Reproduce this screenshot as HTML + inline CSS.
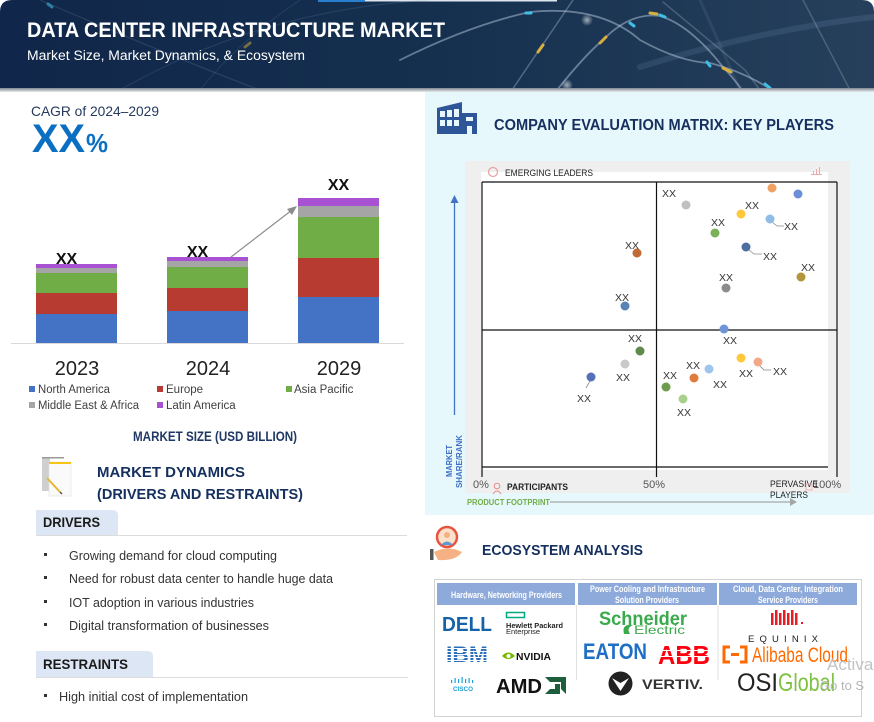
<!DOCTYPE html>
<html><head><meta charset="utf-8"><style>
html,body{margin:0;padding:0;background:#fff;width:874px;height:722px;overflow:hidden}
svg{display:block;font-family:"Liberation Sans",Arial,sans-serif}
</style></head><body>
<svg width="874" height="722" viewBox="0 0 874 722" xmlns="http://www.w3.org/2000/svg">
<defs>
<linearGradient id="hg" x1="0" y1="0" x2="1" y2="0">
<stop offset="0" stop-color="#10264a"/><stop offset="0.5" stop-color="#15304f"/><stop offset="1" stop-color="#26405c"/>
</linearGradient>
<linearGradient id="hb" x1="0" y1="0" x2="0" y2="1">
<stop offset="0" stop-color="#7e8792"/><stop offset="1" stop-color="#e8eaec"/>
</linearGradient>
<radialGradient id="glw"><stop offset="0" stop-color="rgba(255,255,255,0.6)"/><stop offset="1" stop-color="rgba(255,255,255,0)"/></radialGradient>
</defs>
<rect width="874" height="722" fill="#fff"/>
<!-- header -->
<path d="M0,90 L0,12 Q0,0 12,0 L862,0 Q874,0 874,12 L874,90 Z" fill="url(#hg)"/>
<rect x="318" y="0" width="47" height="2" fill="#2a7fd0"/>
<rect x="365" y="0" width="192" height="1.5" fill="#dde6ee"/>
<g fill="none" stroke-linecap="round">
<path d="M40,0 Q180,60 260,90" stroke="rgba(140,170,210,0.18)" stroke-width="1.2"/>
<path d="M120,90 Q260,10 430,0" stroke="rgba(140,170,210,0.15)" stroke-width="1.2"/>
<path d="M200,90 Q240,40 300,0" stroke="rgba(140,170,210,0.12)" stroke-width="1.2"/>
<path d="M640,67 Q760,30 873,17" stroke="rgba(120,150,190,0.18)" stroke-width="6"/>
<path d="M573,0 L512,90" stroke="rgba(190,205,225,0.35)" stroke-width="1.5"/>
<path d="M663,2 L745,70 L760,90" stroke="rgba(190,205,225,0.25)" stroke-width="1.5"/>
<path d="M803,0 L850,90" stroke="rgba(190,205,225,0.25)" stroke-width="1.5"/>
<path d="M700,0 L740,90" stroke="rgba(150,170,200,0.12)" stroke-width="3"/>
<path d="M400,60 Q470,25 530,12 Q600,5 640,40 Q680,62 710,63 Q745,72 775,92" stroke="rgba(200,215,235,0.45)" stroke-width="1.8"/>
<path d="M557,90 Q585,55 603,40 Q630,12 660,16 Q690,25 723,67 Q735,80 742,90" stroke="rgba(200,215,235,0.45)" stroke-width="1.8"/>
</g>
<g stroke-width="3" stroke-linecap="round">
<line x1="538" y1="52" x2="543" y2="45" stroke="#d8b040"/>
<line x1="600" y1="43" x2="606" y2="37" stroke="#d8b040"/>
<line x1="650" y1="13" x2="657" y2="14" stroke="#d8b040"/>
<line x1="723" y1="68" x2="731" y2="72" stroke="#d8b040"/>
<line x1="245" y1="47" x2="250" y2="43" stroke="rgba(216,176,64,0.5)"/>
<line x1="526" y1="13" x2="531" y2="13" stroke="#3cc0e8"/>
<line x1="630" y1="23" x2="634" y2="26" stroke="#3cc0e8"/>
<line x1="660" y1="15" x2="665" y2="17" stroke="#3cc0e8"/>
<line x1="707" y1="62" x2="710" y2="66" stroke="#3cc0e8"/>
<line x1="765" y1="84" x2="770" y2="88" stroke="#3cc0e8"/>
<line x1="48" y1="4" x2="52" y2="7" stroke="rgba(60,182,216,0.6)"/>
</g>
<circle cx="587" cy="20" r="6" fill="url(#glw)"/>
<circle cx="567" cy="85" r="6" fill="url(#glw)"/>
<text x="27" y="37" font-size="21" font-weight="bold" fill="#fff" textLength="418" lengthAdjust="spacingAndGlyphs">DATA CENTER INFRASTRUCTURE MARKET</text>
<text x="27" y="60" font-size="13.5" fill="#fff" textLength="278" lengthAdjust="spacingAndGlyphs">Market Size, Market Dynamics, &amp; Ecosystem</text>
<rect x="0" y="88" width="874" height="4" fill="url(#hb)"/>

<!-- right cyan panel -->
<rect x="425" y="92" width="449" height="423" fill="#e6f8fc"/>

<!-- CAGR -->
<text x="31" y="116" font-size="14" fill="#253a5e" textLength="128" lengthAdjust="spacingAndGlyphs">CAGR of 2024–2029</text>
<text x="32" y="152" font-size="40" font-weight="bold" fill="#0a6fc2" textLength="53" lengthAdjust="spacingAndGlyphs">XX</text>
<text x="86" y="152" font-size="26" font-weight="bold" fill="#0a6fc2" textLength="22" lengthAdjust="spacingAndGlyphs">%</text>

<!-- bars -->
<g>
<rect x="36" y="264" width="81" height="4" fill="#a851d3"/>
<rect x="36" y="268" width="81" height="5" fill="#a5a5a5"/>
<rect x="36" y="273" width="81" height="20" fill="#70ad47"/>
<rect x="36" y="293" width="81" height="21" fill="#b83b31"/>
<rect x="36" y="314" width="81" height="29" fill="#4472c4"/>
<rect x="167" y="257" width="81" height="4" fill="#a851d3"/>
<rect x="167" y="261" width="81" height="6" fill="#a5a5a5"/>
<rect x="167" y="267" width="81" height="21" fill="#70ad47"/>
<rect x="167" y="288" width="81" height="23" fill="#b83b31"/>
<rect x="167" y="311" width="81" height="32" fill="#4472c4"/>
<rect x="298" y="198" width="81" height="8" fill="#a851d3"/>
<rect x="298" y="206" width="81" height="11" fill="#a5a5a5"/>
<rect x="298" y="217" width="81" height="41" fill="#70ad47"/>
<rect x="298" y="258" width="81" height="39" fill="#b83b31"/>
<rect x="298" y="297" width="81" height="46" fill="#4472c4"/>
</g>
<line x1="11" y1="343.5" x2="404" y2="343.5" stroke="#d9d9d9" stroke-width="1"/>
<line x1="231" y1="257" x2="292" y2="210" stroke="#8c8c8c" stroke-width="1.2"/>
<polygon points="297,206 287,209 292,215" fill="#8c8c8c"/>
<g font-size="16" font-weight="bold" fill="#111" text-anchor="middle">
<text x="66.5" y="264">XX</text>
<text x="197.5" y="257">XX</text>
<text x="338.5" y="190">XX</text>
</g>
<g font-size="20" fill="#222" text-anchor="middle">
<text x="77" y="375">2023</text>
<text x="208" y="375">2024</text>
<text x="339" y="375">2029</text>
</g>
<g font-size="11.5" fill="#404040">
<rect x="29" y="386" width="6" height="6" fill="#4472c4"/><text x="38" y="393" textLength="72" lengthAdjust="spacingAndGlyphs">North America</text>
<rect x="157" y="386" width="6" height="6" fill="#b83b31"/><text x="166" y="393">Europe</text>
<rect x="286" y="386" width="6" height="6" fill="#70ad47"/><text x="294" y="393">Asia Pacific</text>
<rect x="29" y="402" width="6" height="6" fill="#a5a5a5"/><text x="38" y="409" textLength="101" lengthAdjust="spacingAndGlyphs">Middle East &amp; Africa</text>
<rect x="157" y="402" width="6" height="6" fill="#a851d3"/><text x="166" y="409">Latin America</text>
</g>
<text x="133" y="441" font-size="13.5" font-weight="bold" fill="#203864" textLength="164" lengthAdjust="spacingAndGlyphs">MARKET SIZE (USD BILLION)</text>

<!-- market dynamics icon -->
<rect x="42" y="457" width="8" height="34" fill="#cfcfcf"/>
<rect x="42" y="457" width="22" height="1.5" fill="#9a9a9a"/>
<rect x="49" y="462" width="22" height="34" fill="#fafafa" stroke="#e2e2e2" stroke-width="0.6"/>
<rect x="49" y="462" width="22" height="2" fill="#f5c518"/>
<line x1="47" y1="478" x2="60" y2="492" stroke="#e8b730" stroke-width="2"/>
<line x1="60" y1="492" x2="62" y2="494" stroke="#555" stroke-width="1.5"/>
<text x="97" y="477" font-size="15" font-weight="bold" fill="#15305e" textLength="148" lengthAdjust="spacingAndGlyphs">MARKET DYNAMICS</text>
<text x="97" y="499" font-size="15" font-weight="bold" fill="#15305e" textLength="206" lengthAdjust="spacingAndGlyphs">(DRIVERS AND RESTRAINTS)</text>

<!-- drivers -->
<path d="M36,535 L36,510 L112,510 Q118,510 118,516 L118,535 Z" fill="#dce6f4"/>
<line x1="36" y1="535.5" x2="407" y2="535.5" stroke="#dcdcdc"/>
<text x="43" y="527" font-size="14" font-weight="bold" fill="#1a1a1a" textLength="57" lengthAdjust="spacingAndGlyphs">DRIVERS</text>
<g font-size="12.5" fill="#333">
<rect x="44" y="553" width="3" height="3" fill="#333"/><text x="69" y="560" textLength="208" lengthAdjust="spacingAndGlyphs">Growing demand for cloud computing</text>
<rect x="44" y="576" width="3" height="3" fill="#333"/><text x="69" y="583" textLength="264" lengthAdjust="spacingAndGlyphs">Need for robust data center to handle huge data</text>
<rect x="44" y="600" width="3" height="3" fill="#333"/><text x="69" y="607" textLength="185" lengthAdjust="spacingAndGlyphs">IOT adoption in various industries</text>
<rect x="44" y="623" width="3" height="3" fill="#333"/><text x="69" y="630" textLength="200" lengthAdjust="spacingAndGlyphs">Digital transformation of businesses</text>
</g>
<path d="M36,677 L36,651 L147,651 Q153,651 153,657 L153,677 Z" fill="#dce6f4"/>
<line x1="36" y1="677.5" x2="408" y2="677.5" stroke="#dcdcdc"/>
<text x="43" y="669" font-size="14" font-weight="bold" fill="#1a1a1a" textLength="85" lengthAdjust="spacingAndGlyphs">RESTRAINTS</text>
<rect x="44" y="694" width="3" height="3" fill="#333"/>
<text x="59" y="701" font-size="12.5" fill="#333" textLength="189" lengthAdjust="spacingAndGlyphs">High initial cost of implementation</text>

<!-- company icon -->
<g fill="#2e5597">
<polygon points="437,108 462,102 462,134 437,134"/>
<rect x="462" y="113" width="15" height="21"/>
</g>
<g fill="#e6f8fc">
<rect x="440" y="111" width="5" height="6"/><rect x="447" y="110" width="5" height="7"/><rect x="454" y="109" width="5" height="8"/>
<rect x="440" y="120" width="5" height="6"/><rect x="447" y="120" width="5" height="6"/><rect x="454" y="120" width="5" height="6"/>
<rect x="466" y="117" width="7" height="4"/><rect x="467" y="126" width="5" height="8"/>
</g>
<text x="494" y="130" font-size="16" font-weight="bold" fill="#172f5e" textLength="340" lengthAdjust="spacingAndGlyphs">COMPANY EVALUATION MATRIX: KEY PLAYERS</text>

<!-- matrix -->
<rect x="465" y="161" width="385" height="332" fill="#efefef"/>
<rect x="481" y="172" width="347" height="298" fill="#fff"/>
<g stroke="#111" stroke-width="1.2" fill="none">
<line x1="482" y1="182" x2="837" y2="182"/>
<line x1="482" y1="182" x2="482" y2="477"/>
<line x1="837" y1="182" x2="837" y2="477"/>
<line x1="656.5" y1="182" x2="656.5" y2="477"/>
<line x1="482" y1="330" x2="837" y2="330"/>
<line x1="482" y1="467" x2="828" y2="467"/>
</g>
<circle cx="493" cy="172" r="4.5" fill="none" stroke="#e8a0a0" stroke-width="1.2"/>
<text x="505" y="176" font-size="9.5" fill="#222" textLength="88" lengthAdjust="spacingAndGlyphs">EMERGING LEADERS</text>
<g fill="#f0a8a8"><rect x="811" y="174" width="11" height="1"/><rect x="813" y="171" width="1" height="4"/><rect x="816" y="169" width="1" height="6"/><rect x="819" y="167" width="1" height="8"/></g>
<!-- y axis -->
<line x1="454.5" y1="201" x2="454.5" y2="415" stroke="#4472c4" stroke-width="1.3"/>
<polygon points="454.5,195 450.5,203 458.5,203" fill="#4472c4"/>
<text transform="translate(452,477) rotate(-90)" font-size="8" font-weight="bold" fill="#3f6fc6" textLength="32" lengthAdjust="spacingAndGlyphs">MARKET</text>
<text transform="translate(462,488) rotate(-90)" font-size="8" font-weight="bold" fill="#3f6fc6" textLength="53" lengthAdjust="spacingAndGlyphs">SHARE/RANK</text>
<g font-size="11" fill="#555">
<text x="473" y="488">0%</text>
<text x="643" y="488">50%</text>
<text x="813" y="488">100%</text>
</g>
<circle cx="497" cy="486" r="2.8" fill="none" stroke="#e88a8a" stroke-width="1"/>
<path d="M493,494 Q497,488 501,494" fill="none" stroke="#e88a8a" stroke-width="1"/>
<text x="507" y="490" font-size="9" font-weight="bold" fill="#222" textLength="61" lengthAdjust="spacingAndGlyphs">PARTICIPANTS</text>
<text x="770" y="487" font-size="9.5" fill="#222" textLength="48" lengthAdjust="spacingAndGlyphs">PERVASIVE</text>
<text x="770" y="498" font-size="9.5" fill="#222" textLength="38" lengthAdjust="spacingAndGlyphs">PLAYERS</text>
<rect x="806" y="484" width="6" height="6" fill="none" stroke="#f0a8a8" stroke-width="0.8"/>
<text x="467" y="505" font-size="8" font-weight="bold" fill="#70ad47" textLength="83" lengthAdjust="spacingAndGlyphs">PRODUCT FOOTPRINT</text>
<line x1="550" y1="502" x2="791" y2="502" stroke="#a6a6a6" stroke-width="1.2"/>
<polygon points="797,502 790,498 790,506" fill="#a6a6a6"/>
<!-- leader lines -->
<g stroke="#888" stroke-width="0.8" fill="none">
<polyline points="772,222 777,226 784,226"/>
<polyline points="749,250 754,254 762,254"/>
<line x1="590" y1="381" x2="586" y2="388"/>
<polyline points="760,366 764,370 771,370"/>
</g>
<g>
<circle cx="772" cy="188" r="4.5" fill="#f0a060"/>
<circle cx="798" cy="194" r="4.5" fill="#6a8fd8"/>
<circle cx="686" cy="205" r="4.5" fill="#c0c0c0"/>
<circle cx="741" cy="214" r="4.5" fill="#ffc83a"/>
<circle cx="770" cy="219" r="4.5" fill="#90bde6"/>
<circle cx="715" cy="233" r="4.5" fill="#78b159"/>
<circle cx="746" cy="247" r="4.5" fill="#4f6ea0"/>
<circle cx="801" cy="277" r="4.5" fill="#b3953a"/>
<circle cx="726" cy="288" r="4.5" fill="#8c8c8c"/>
<circle cx="637" cy="253" r="4.5" fill="#c06b36"/>
<circle cx="625" cy="306" r="4.5" fill="#5a83b5"/>
<circle cx="724" cy="329" r="4.5" fill="#6f95d6"/>
<circle cx="640" cy="351" r="4.5" fill="#5f8a4c"/>
<circle cx="625" cy="364" r="4.5" fill="#c9c9c9"/>
<circle cx="591" cy="377" r="4.5" fill="#5470b8"/>
<circle cx="741" cy="358" r="4.5" fill="#ffc83a"/>
<circle cx="758" cy="362" r="4.5" fill="#f2a886"/>
<circle cx="709" cy="369" r="4.5" fill="#9ec5ea"/>
<circle cx="694" cy="378" r="4.5" fill="#e07c3a"/>
<circle cx="666" cy="387" r="4.5" fill="#6d9c4c"/>
<circle cx="683" cy="399" r="4.5" fill="#a9d18e"/>
</g>
<g font-size="10.5" fill="#333" text-anchor="middle">
<text x="669" y="197">XX</text><text x="752" y="209">XX</text><text x="791" y="230">XX</text>
<text x="718" y="226">XX</text><text x="770" y="260">XX</text><text x="808" y="271">XX</text>
<text x="726" y="281">XX</text><text x="632" y="249">XX</text><text x="622" y="301">XX</text>
<text x="730" y="344">XX</text><text x="635" y="342">XX</text><text x="623" y="381">XX</text>
<text x="584" y="402">XX</text><text x="746" y="377">XX</text><text x="780" y="375">XX</text>
<text x="720" y="388">XX</text><text x="693" y="369">XX</text><text x="670" y="379">XX</text>
<text x="684" y="416">XX</text>
</g>

<!-- ecosystem -->
<rect x="430" y="549" width="3.5" height="11" fill="#555"/>
<path d="M434,552 Q448,545 462,552 Q456,561 438,560 Z" fill="#f5b183"/>
<circle cx="447" cy="537" r="10" fill="#fbe0cc" stroke="#e8553e" stroke-width="2.5"/>
<circle cx="447" cy="535" r="3" fill="#f5b183"/>
<path d="M441,545 Q447,538 453,545 Z" fill="#5b9bd5"/>
<text x="482" y="555" font-size="15" font-weight="bold" fill="#15305e" textLength="161" lengthAdjust="spacingAndGlyphs">ECOSYSTEM ANALYSIS</text>
<rect x="434.5" y="579.5" width="427" height="137" fill="#fff" stroke="#d3d3d3"/>
<rect x="437" y="583" width="138" height="22" fill="#8eaadb"/>
<rect x="578" y="583" width="139" height="22" fill="#8eaadb"/>
<rect x="719" y="583" width="138" height="22" fill="#8eaadb"/>
<line x1="576.5" y1="605" x2="576.5" y2="680" stroke="#e0e0e0"/>
<line x1="718" y1="605" x2="718" y2="680" stroke="#e0e0e0"/>
<g font-size="9" font-weight="bold" fill="#fff">
<text x="451" y="598" textLength="111" lengthAdjust="spacingAndGlyphs">Hardware, Networking Providers</text>
<text x="590" y="592" textLength="115" lengthAdjust="spacingAndGlyphs">Power Cooling and Infrastructure</text>
<text x="615" y="603" textLength="64" lengthAdjust="spacingAndGlyphs">Solution Providers</text>
<text x="733" y="592" textLength="110" lengthAdjust="spacingAndGlyphs">Cloud, Data Center, Integration</text>
<text x="758" y="603" textLength="60" lengthAdjust="spacingAndGlyphs">Service Providers</text>
</g>
<!-- logos col1 -->
<text x="442" y="631" font-size="20" font-weight="bold" fill="#1462a9" textLength="50" lengthAdjust="spacingAndGlyphs">DELL</text>
<rect x="506.5" y="612.5" width="18" height="5" fill="none" stroke="#01a982" stroke-width="1.5"/>
<text x="506" y="628" font-size="7.5" font-weight="bold" fill="#222" textLength="57" lengthAdjust="spacingAndGlyphs">Hewlett Packard</text>
<text x="506" y="634" font-size="7.5" fill="#222" textLength="34" lengthAdjust="spacingAndGlyphs">Enterprise</text>
<text x="446" y="662" font-size="22" font-weight="bold" fill="#2a6ebb" textLength="42" lengthAdjust="spacingAndGlyphs">IBM</text>
<g fill="#fff"><rect x="444" y="648" width="46" height="1"/><rect x="444" y="651" width="46" height="1"/><rect x="444" y="654" width="46" height="1"/><rect x="444" y="657" width="46" height="1"/><rect x="444" y="660" width="46" height="1"/></g>
<path d="M502,656 Q508,649 515,656 Q508,662 502,656 Z" fill="#76b900"/>
<circle cx="508.5" cy="656" r="2" fill="#fff"/>
<text x="516" y="660" font-size="10" font-weight="bold" fill="#111" textLength="35" lengthAdjust="spacingAndGlyphs">NVIDIA</text>
<g fill="#1ba0d7"><rect x="451" y="680" width="1.2" height="3"/><rect x="454.5" y="678" width="1.2" height="5"/><rect x="458" y="679" width="1.2" height="4"/><rect x="461.5" y="677" width="1.2" height="6"/><rect x="465" y="679" width="1.2" height="4"/><rect x="468.5" y="678" width="1.2" height="5"/><rect x="472" y="680" width="1.2" height="3"/></g>
<text x="453" y="691" font-size="6" font-weight="bold" fill="#1ba0d7" textLength="20" lengthAdjust="spacingAndGlyphs">CISCO</text>
<text x="496" y="693" font-size="20" font-weight="bold" fill="#111" textLength="46" lengthAdjust="spacingAndGlyphs">AMD</text>
<polygon points="545,677 566,677 566,694 561,689 561,682 550,682" fill="#1f5e3c"/>
<polygon points="555,684 560,684 560,694 545,694 550,689 555,689" fill="#1f5e3c"/>
<!-- col2 -->
<text x="599" y="625" font-size="19" font-weight="bold" fill="#3aaa4c" textLength="88" lengthAdjust="spacingAndGlyphs">Schneider</text>
<path d="M624,634 Q622,626 628,625 L633,625 Q626,628 630,634 Z" fill="#3aaa4c"/>
<text x="634" y="634" font-size="11.5" fill="#3aaa4c" textLength="51" lengthAdjust="spacingAndGlyphs">Electric</text>
<text x="583" y="659" font-size="22" font-weight="bold" fill="#1f6fc5" textLength="64" lengthAdjust="spacingAndGlyphs">EATON</text>
<text x="658" y="664" font-size="26" font-weight="bold" fill="#ff000f" textLength="52" lengthAdjust="spacingAndGlyphs">ABB</text>
<g fill="#fff"><rect x="656" y="650" width="56" height="1"/><rect x="656" y="656" width="56" height="1"/></g>
<circle cx="620.5" cy="683.5" r="12" fill="#222"/>
<path d="M612,678 L620.5,691 L629,678 L620.5,683 Z" fill="#fff"/>
<text x="642" y="689" font-size="14" font-weight="bold" fill="#333" textLength="61" lengthAdjust="spacingAndGlyphs">VERTIV.</text>
<!-- col3 -->
<g fill="#e91c24">
<rect x="771" y="613" width="2.5" height="12"/><rect x="775" y="610" width="2.5" height="15"/><rect x="779" y="613" width="2.5" height="12"/><rect x="783" y="610" width="2.5" height="15"/><rect x="787" y="613" width="2.5" height="12"/><rect x="791" y="610" width="2.5" height="15"/><rect x="795" y="613" width="2.5" height="12"/><rect x="801" y="622" width="2" height="2"/>
</g>
<text x="748" y="642" font-size="9.5" fill="#222" textLength="70" lengthAdjust="spacing">EQUINIX</text>
<path d="M730,647 L724,647 L724,662 L730,662 M740,647 L746,647 L746,662 L740,662 M731,654.5 L739,654.5" fill="none" stroke="#ff6a00" stroke-width="3"/>
<text x="752" y="662" font-size="21" fill="#ff6a00" textLength="96" lengthAdjust="spacingAndGlyphs">Alibaba Cloud</text>
<text x="737" y="691" font-size="25" fill="#222" textLength="41" lengthAdjust="spacingAndGlyphs">OSI</text>
<text x="778" y="691" font-size="25" fill="#7dc242" textLength="57" lengthAdjust="spacingAndGlyphs">Global</text>
<!-- watermark -->
<text x="827" y="670" font-size="17" fill="#c3c3c3">Activa</text>
<text x="820" y="690" font-size="13" fill="#b5b5b5">Go to S</text>
</svg>
</body></html>
